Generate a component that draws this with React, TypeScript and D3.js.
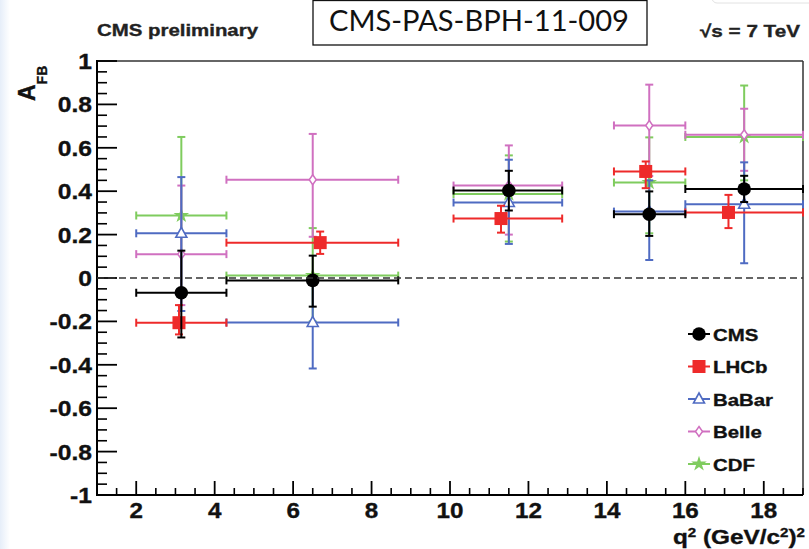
import React from 'react';
import * as d3 from 'd3';

// ---- data ----
const binLo = [2.0, 4.3, 10.09, 14.18, 16.0];
const binHi = [4.3, 8.68, 12.86, 16.0, 19.0];

const cmsQ2 = [3.15, 6.5, 11.5, 15.08, 17.5];
const cmsVal = [-0.068, -0.011, 0.403, 0.294, 0.41];
const cmsUp = [0.126, 0.103, 0.494, 0.399, 0.471];
const cmsDown = [-0.274, -0.132, 0.311, 0.194, 0.35];

const lhcbQ2 = [3.09, 6.69, 11.3, 14.99, 17.1];
const lhcbVal = [-0.206, 0.163, 0.274, 0.491, 0.302];
const lhcbUp = [-0.125, 0.214, 0.333, 0.537, 0.383];
const lhcbDown = [-0.26, 0.111, 0.209, 0.414, 0.23];

const babarQ2 = [3.15, 6.5, 11.5, 15.08, 17.5];
const babarVal = [0.206, -0.205, 0.348, 0.306, 0.34];
const babarUp = [0.465, 0.0, 0.545, 0.45, 0.533];
const babarDown = [-0.152, -0.417, 0.157, 0.083, 0.068];

const belleQ2 = [3.15, 6.5, 11.5, 15.08, 17.5];
const belleVal = [0.11, 0.453, 0.426, 0.703, 0.66];
const belleUp = [0.426, 0.664, 0.611, 0.891, 0.78];
const belleDown = [-0.125, 0.19, 0.2, 0.47, 0.494];

const cdfQ2 = [3.15, 6.5, 11.5, 15.08, 17.5];
const cdfVal = [0.288, 0.011, 0.387, 0.44, 0.65];
const cdfUp = [0.65, 0.23, 0.565, 0.648, 0.887];
const cdfDown = [-0.06, -0.2, 0.168, 0.206, 0.45];

const legendNames = ['CMS', 'LHCb', 'BaBar', 'Belle', 'CDF'];
const xTickVals = [2, 4, 6, 8, 10, 12, 14, 16, 18];
const yTickVals = [-1, -0.8, -0.6, -0.4, -0.2, 0, 0.2, 0.4, 0.6, 0.8, 1];
const yTickLabels = ['-1', '-0.8', '-0.6', '-0.4', '-0.2', '0', '0.2', '0.4', '0.6', '0.8', '1'];

// ---- styling ----
const W = 809, H = 549;
const FONT = '"Liberation Sans", Arial, Helvetica, sans-serif';
const colors: Record<string, string> = {
  CMS: '#000000',
  LHCb: '#ee2a2a',
  BaBar: '#4f6bc2',
  Belle: '#d070c0',
  CDF: '#7fcc5e',
};

const x = d3.scaleLinear().domain([1, 19]).range([97, 803]);
const y = d3.scaleLinear().domain([-1, 1]).range([495, 61]);

type Series = { name: string; q2: number[]; val: number[]; up: number[]; down: number[] };
const series: Series[] = [
  { name: 'CDF', q2: cdfQ2, val: cdfVal, up: cdfUp, down: cdfDown },
  { name: 'Belle', q2: belleQ2, val: belleVal, up: belleUp, down: belleDown },
  { name: 'BaBar', q2: babarQ2, val: babarVal, up: babarUp, down: babarDown },
  { name: 'LHCb', q2: lhcbQ2, val: lhcbVal, up: lhcbUp, down: lhcbDown },
  { name: 'CMS', q2: cmsQ2, val: cmsVal, up: cmsUp, down: cmsDown },
];

const starPath = d3.symbol().type(d3.symbolStar).size(75)() as string;

function Marker({ name, cx, cy }: { name: string; cx: number; cy: number }) {
  const c = colors[name];
  if (name === 'CMS') return <circle cx={cx} cy={cy} r={6.8} fill={c} />;
  if (name === 'LHCb') return <rect x={cx - 6.5} y={cy - 6.5} width={13} height={13} fill={c} />;
  if (name === 'BaBar')
    return (
      <path
        d={`M${cx},${cy - 6}L${cx + 5.5},${cy + 4}L${cx - 5.5},${cy + 4}Z`}
        fill="white"
        stroke={c}
        strokeWidth={1.6}
      />
    );
  if (name === 'Belle')
    return (
      <path
        d={`M${cx},${cy - 5}L${cx + 3.5},${cy}L${cx},${cy + 5}L${cx - 3.5},${cy}Z`}
        fill="white"
        stroke={c}
        strokeWidth={1.5}
      />
    );
  return <path d={starPath} transform={`translate(${cx},${cy})`} fill={c} />;
}

function ErrorPoint({ s, i }: { s: Series; i: number }) {
  const c = colors[s.name];
  const px = x(s.q2[i]);
  const py = y(s.val[i]);
  const x0 = x(binLo[i]);
  const x1 = x(binHi[i]);
  const yu = y(s.up[i]);
  const yd = y(s.down[i]);
  const cap = 4;
  return (
    <g stroke={c} strokeWidth={2} fill="none">
      <line x1={x0} x2={x1} y1={py} y2={py} />
      <line x1={x0} x2={x0} y1={py - cap} y2={py + cap} />
      <line x1={x1} x2={x1} y1={py - cap} y2={py + cap} />
      <line x1={px} x2={px} y1={yu} y2={yd} />
      <line x1={px - cap} x2={px + cap} y1={yu} y2={yu} />
      <line x1={px - cap} x2={px + cap} y1={yd} y2={yd} />
    </g>
  );
}

function SText({ x: tx, y: ty, sx = 1, anchor = 'start', size, children }: any) {
  return (
    <g transform={`translate(${tx},${ty}) scale(${sx},1)`}>
      <text
        textAnchor={anchor}
        fontFamily={FONT}
        fontWeight="bold"
        fontSize={size}
        fill="#111"
        stroke="#111"
        strokeWidth={0.35}
      >
        {children}
      </text>
    </g>
  );
}

export default function App() {
  const xMinor = d3.range(1.5, 19.0001, 0.5).filter((v) => Math.abs(v - Math.round(v / 2) * 2) > 1e-6);
  const yMinor = d3.range(-1, 1.0001, 0.05).filter((v) => Math.abs(v * 5 - Math.round(v * 5)) > 1e-6);
  const legendY0 = 334;
  const legendDy = 32.5;

  return (
    <svg
      width={W}
      height={H}
      style={{ position: 'absolute', left: 0, top: 0, background: 'white' }}
    >
      <defs>
        <linearGradient id="edge" x1="0" x2="1" y1="0" y2="0">
          <stop offset="0" stopColor="#e6eef9" />
          <stop offset="1" stopColor="#ffffff" />
        </linearGradient>
      </defs>
      <rect x={0} y={0} width={W} height={H} fill="white" />
      <rect x={0} y={0} width={10} height={H} fill="url(#edge)" />
      <rect x={712} y={-12} width={110} height={15} rx={5} fill="white" stroke="#e2e2e2" />

      {/* titles */}
      <text x={97} y={36} fontFamily={FONT} fontWeight="bold" fontSize={17} fill="#222" stroke="#222" strokeWidth={0.35} textLength={161} lengthAdjust="spacingAndGlyphs">
        CMS preliminary
      </text>
      <rect x={313} y={0.5} width={334} height={44.5} fill="white" stroke="#111" strokeWidth={1.3} />
      <text x={329} y={31} fontFamily='Lato, "Open Sans", sans-serif' fontSize={29} fill="#111" textLength={300} lengthAdjust="spacingAndGlyphs">
        CMS-PAS-BPH-11-009
      </text>
      <text x={700} y={37} fontFamily={FONT} fontWeight="bold" fontSize={17} fill="#222" stroke="#222" strokeWidth={0.35} textLength={100} lengthAdjust="spacingAndGlyphs">
        √s = 7 TeV
      </text>

      {/* frame */}
      <line x1={97} x2={803} y1={61} y2={61} stroke="#333" strokeWidth={1.5} />
      <line x1={803} x2={803} y1={61} y2={495} stroke="#333" strokeWidth={1.5} />

      {/* y axis */}
      <line x1={97} x2={97} y1={60} y2={496} stroke="#000" strokeWidth={2} />
      {yTickVals.map((v) => (
        <line key={'ym' + v} x1={97} x2={117} y1={y(v)} y2={y(v)} stroke="#000" strokeWidth={1.8} />
      ))}
      {yMinor.map((v) => (
        <line key={'yn' + v} x1={97} x2={107} y1={y(v)} y2={y(v)} stroke="#000" strokeWidth={1.6} />
      ))}
      {yTickVals.map((v, i) => (
        <SText key={'yl' + v} x={92} y={y(v) + 8} sx={1.12} anchor="end" size={22}>
          {yTickLabels[i]}
        </SText>
      ))}

      {/* x axis */}
      <line x1={96} x2={803} y1={495} y2={495} stroke="#000" strokeWidth={2} />
      {xTickVals.map((v) => (
        <line key={'xm' + v} x1={x(v)} x2={x(v)} y1={495} y2={481} stroke="#000" strokeWidth={1.8} />
      ))}
      {xMinor.map((v) => (
        <line key={'xn' + v} x1={x(v)} x2={x(v)} y1={495} y2={488} stroke="#000" strokeWidth={1.6} />
      ))}
      {xTickVals.map((v) => (
        <SText key={'xl' + v} x={x(v)} y={518} sx={1.1} anchor="middle" size={22}>
          {String(v)}
        </SText>
      ))}

      {/* axis titles */}
      <g transform="translate(805,544) scale(1.16,1)">
        <text textAnchor="end" fontFamily={FONT} fontWeight="bold" fontSize={21} fill="#111" stroke="#111" strokeWidth={0.35}>
          q<tspan fontSize={13} dy={-7}>2</tspan>
          <tspan dy={7}> (GeV/c</tspan>
          <tspan fontSize={13} dy={-7}>2</tspan>
          <tspan dy={7}>)</tspan>
          <tspan fontSize={13} dy={-7}>2</tspan>
        </text>
      </g>
      <g transform="translate(35,101) rotate(-90)">
        <text fontFamily={FONT} fontWeight="bold" fontSize={23} fill="#111" stroke="#111" strokeWidth={0.35}>
          A<tspan fontSize={14} dy={12}>FB</tspan>
        </text>
      </g>

      {/* data */}
      {series.map((s) => (
        <g key={s.name}>
          {s.val.map((_, i) => (
            <ErrorPoint key={i} s={s} i={i} />
          ))}
          {s.val.map((_, i) => (
            <Marker key={'m' + i} name={s.name} cx={x(s.q2[i])} cy={y(s.val[i])} />
          ))}
        </g>
      ))}

      {/* zero line */}
      <line x1={97} x2={803} y1={y(0)} y2={y(0)} stroke="#333" strokeWidth={1.6} strokeDasharray="7 4" />

      {/* legend */}
      {legendNames.map((n, i) => {
        const ly = legendY0 + i * legendDy;
        return (
          <g key={'lg' + n}>
            <line x1={688} x2={710} y1={ly} y2={ly} stroke={colors[n]} strokeWidth={2} />
            <Marker name={n} cx={699} cy={ly} />
            <SText x={713} y={ly + 6.5} sx={1.2} size={17}>
              {n}
            </SText>
          </g>
        );
      })}
    </svg>
  );
}
